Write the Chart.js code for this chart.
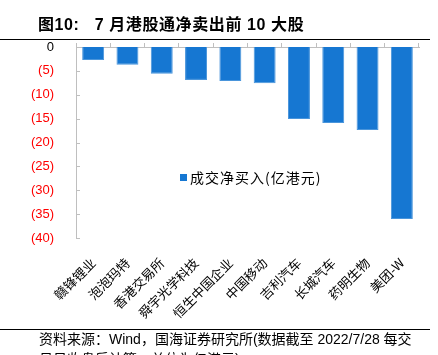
<!DOCTYPE html>
<html><head><meta charset="utf-8">
<script src="https://cdn.jsdelivr.net/npm/chart.js@4"></script>
<style>html,body{margin:0;padding:0;background:#fff;}#wrap{width:438px;height:355px;position:relative;}</style>
</head><body><div id="wrap"><canvas id="c" width="438" height="355"></canvas></div>
<script>
const titleText = '图10:   7 月港股通净卖出前 10 大股';
const sourceLine1 = '资料来源：Wind，国海证券研究所(数据截至 2022/7/28 每交';
const sourceLine2 = '易日收盘后计算，单位为亿港元)';
const seriesName = '成交净买入(亿港元)';
const categories = ['赣锋锂业','泡泡玛特','香港交易所','舜宇光学科技','恒生中国企业','中国移动','吉利汽车','长城汽车','药明生物','美团-W'];
const netBuy = [-2.7, -3.7, -5.6, -6.9, -7.1, -7.6, -15.1, -15.9, -17.4, -36.0];
const yMin = -40, yMax = 0, yStep = 5;
const barColor = '#1677D2';
const axisGray = '#BFBFBF';
const CJK = "'Noto Sans CJK SC'";

const decor = {
  id: 'decor',
  afterDraw(chart) {
    const ctx = chart.ctx, ca = chart.chartArea, ys = chart.scales.y;
    ctx.save();
    ctx.strokeStyle = axisGray; ctx.lineWidth = 1;
    ys.ticks.forEach(t => {
      const y = Math.round(ys.getPixelForValue(t.value)) + 0.5;
      ctx.beginPath(); ctx.moveTo(ca.left, y); ctx.lineTo(ca.left + 4, y); ctx.stroke();
    });
    ctx.fillStyle = '#000';
    ctx.font = "bold 16px 'Liberation Sans', " + CJK;
    ctx.textBaseline = 'middle'; ctx.textAlign = 'left';
    if ('letterSpacing' in ctx) ctx.letterSpacing = '0.6px';
    ctx.fillText(titleText, 38, 26);
    if ('letterSpacing' in ctx) ctx.letterSpacing = '0px';
    ctx.strokeStyle = '#000'; ctx.lineWidth = 1;
    ctx.beginPath(); ctx.moveTo(0, 39.5); ctx.lineTo(430, 39.5); ctx.stroke();
    ctx.beginPath(); ctx.moveTo(0, 329.5); ctx.lineTo(430, 329.5); ctx.stroke();
    ctx.font = "14px 'Liberation Sans', " + CJK;
    ctx.fillText(sourceLine1, 39, 340);
    ctx.fillText(sourceLine2, 39, 360);
    const ds = chart.data.datasets[0];
    ctx.fillStyle = ds.backgroundColor;
    ctx.fillRect(180, 174, 7, 7);
    ctx.fillStyle = '#000';
    ctx.font = "14px " + CJK;
    if ('letterSpacing' in ctx) ctx.letterSpacing = '1px';
    ctx.fillText(ds.label, 190, 177.5);
    ctx.restore();
  }
};

new Chart(document.getElementById('c'), {
  type: 'bar',
  data: {
    labels: categories,
    datasets: [{
      label: seriesName,
      data: netBuy,
      backgroundColor: barColor,
      borderColor: '#4A95DB',
      borderWidth: 1,
      categoryPercentage: 0.8,
      barPercentage: 0.8
    }]
  },
  options: {
    responsive: false,
    animation: false,
    devicePixelRatio: 1,
    layout: { padding: { top: 43, right: 19, bottom: 0, left: 0 } },
    plugins: { legend: { display: false }, tooltip: { enabled: false } },
    scales: {
      x: {
        position: 'bottom',
        border: { display: false },
        grid: { display: false },
        ticks: {
          autoSkip: false, maxRotation: 45, minRotation: 45, padding: 9,
          color: '#000', font: { size: 13, family: CJK }
        },
        afterFit(s) { s.height = 117; }
      },
      x2: {
        type: 'category',
        labels: categories,
        position: 'top',
        offset: true,
        border: { display: true, color: axisGray },
        grid: { display: true, offset: true, drawOnChartArea: false, drawTicks: true, tickLength: 4, color: axisGray },
        ticks: { display: false }
      },
      y: {
        min: yMin, max: yMax,
        border: { display: true, color: axisGray },
        grid: { display: false },
        ticks: {
          stepSize: yStep, padding: 14,
          font: { size: 13, family: "'Liberation Sans'" },
          color: c => (c.tick && c.tick.value === 0) ? '#000' : '#FF0000',
          callback: v => v === 0 ? '0' : '(' + Math.abs(v) + ')'
        },
        afterFit(s) { s.width = 76; }
      }
    }
  },
  plugins: [decor]
});
</script></body></html>
